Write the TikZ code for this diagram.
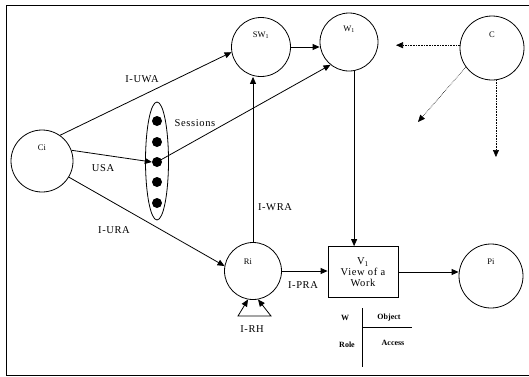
\documentclass[tikz,border=0pt]{standalone}
\usepackage{fontspec}
\setmainfont{Liberation Serif}
\usepackage{tikz}
\usetikzlibrary{arrows.meta, positioning, shapes.geometric, calc}

\begin{document}
\begin{tikzpicture}[
  x=1pt, y=-1pt,
  actor/.style = {draw, circle, line width=0.8pt, inner sep=0pt},
  tag/.style   = {font=\fontsize{8.5}{9}\selectfont, inner sep=0pt},
  lbl/.style   = {font=\fontsize{10.5}{11}\selectfont\addfontfeature{LetterSpace=6},
                  inner sep=1pt},
  tbl/.style   = {font=\fontsize{8}{9}\selectfont\bfseries, inner sep=0pt},
  arr/.style   = {-{Triangle[length=7pt, width=6pt]}, line width=0.8pt},
  cflow/.style = {-{Triangle[length=7pt, width=6pt]}, densely dotted,
                  line width=0.6pt},
  dot/.style   = {circle, fill, inner sep=0pt, minimum size=10pt}
]
\useasboundingbox (0,0) rectangle (529,376);
% frame
\draw[line width=0.9pt] (529,5) -- (6,5) -- (6,375) -- (529,375);
% circles
\node[actor, minimum size=62pt] (Ci)  at (42,161)  {};
\node[actor, minimum size=59pt] (SW1) at (261,47)  {};
\node[actor, minimum size=58pt] (W1)  at (349,42)  {};
\node[actor, minimum size=64pt] (C)   at (492,48)  {};
\node[actor, minimum size=57pt] (Ri)  at (253,271) {};
\node[actor, minimum size=64pt] (Pi)  at (491,276) {};
% names inside
\node[tag] (CiT)  at ([yshift=-18pt]Ci.north)  {Ci};
\node[tag] (SW1T) at ([yshift=-18pt]SW1.north) {SW\textsubscript{1}};
\node[tag] (W1T)  at ([yshift=-17pt]W1.north)  {W\textsubscript{1}};
\node[tag] (CT)   at ([yshift=-19pt]C.north)   {C};
\node[tag] (RiT)  at ([xshift=-5pt, yshift=-20pt]Ri.north) {Ri};
\node[tag] (PiT)  at ([yshift=-18pt]Pi.north)  {Pi};
% sessions
\node[draw, ellipse, line width=0.8pt, minimum width=23pt,
      minimum height=118pt] (sess) at (157,161) {};
\foreach \i/\y in {1/121, 2/142, 3/162, 4/182, 5/203}
  \node[dot] (s\i) at (157,\y) {};
% view box
\node[draw, line width=0.8pt, minimum width=70pt, minimum height=51pt,
      align=center, font=\fontsize{10.5}{11}\selectfont\addfontfeature{LetterSpace=6}]
  (V) at (363,272) {V\textsubscript{1}\\View of a\\Work};
% arrows
\draw[arr] (Ci.55) -- (SW1.190);
\draw[arr] (Ci.20) -- (s3.west);
\draw[arr] (s3.center) -- (W1.231);
\draw[arr] (Ci.-31) -- (Ri.170);
\draw[arr] (Ri.north) -- (Ri.north |- SW1.south);
\draw[arr] (SW1.east) -- (SW1.east -| W1.west);
\draw[arr] (W1.-80) -- (W1.-80 |- V.north);
\draw[arr] (Ri.east) -- (Ri.east -| V.west);
\draw[arr] (V.east) -- (V.east -| Pi.west);
% self loop
\coordinate (rhl) at (238,316);
\coordinate (rhr) at (271,316);
\draw[{Triangle[length=7pt, width=6pt]}-{Triangle[length=7pt, width=6pt]},
      line width=0.8pt] (Ri.-100) -- (rhl) -- (rhr) -- (Ri.-80);
% arrows out of C
\coordinate (cw)  at (396,45);
\coordinate (csw) at (418,122);
\coordinate (cs)  at (496,157);
\draw[cflow] (C.175) -- (C.175 -| cw);
\draw[cflow] (C.216) -- (csw);
\draw[cflow] (C.-83) -- (C.-83 |- cs);
% edge labels
\node[lbl] (uwa)  at (142,79)  {I-UWA};
\node[lbl] (sesT) at (195,123) {Sessions};
\node[lbl] (usa)  at (103,168) {USA};
\node[lbl] (ura)  at (114,230) {I-URA};
\node[lbl] (wra)  at (275,207) {I-WRA};
\node[lbl] (pra)  at (303,285) {I-PRA};
\node[lbl] (rh)   at (252,329) {I-RH};
% object/access table
\node[tbl] (tW)   at (345,318) {W};
\node[tbl] (tObj) at (389,318) {Object};
\node[tbl] (tRol) at (347,345) {Role};
\node[tbl] (tAcc) at (393,343) {Access};
\draw[line width=0.8pt] (362,308) -- (362,367);
\draw[line width=0.8pt] (362,327) -- (412,327);
\end{tikzpicture}
\end{document}
